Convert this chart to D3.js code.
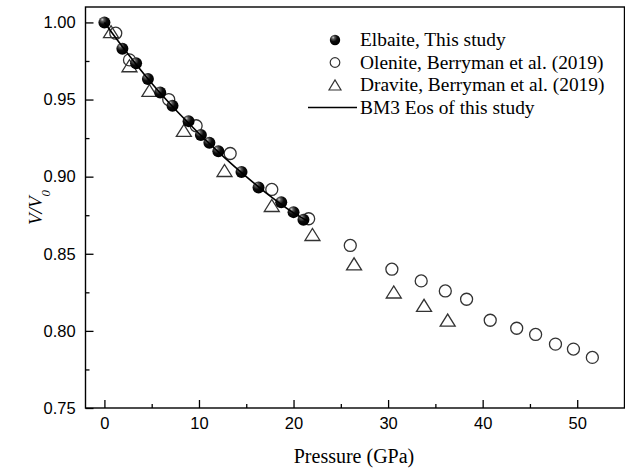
<!DOCTYPE html>
<html>
<head>
<meta charset="utf-8">
<script src="https://cdn.jsdelivr.net/npm/d3@7"></script>
<style>
  body { margin: 0; background: #fff; }
  svg { display: block; }
</style>
</head>
<body>
<div id="chart-container"></div>
<script>
// Elbaite, this study
const elbP = [0, 1.9, 3.35, 4.6, 5.9, 7.2, 8.9, 10.2, 11.1, 12.05, 14.5, 16.3, 18.7, 20.0, 21.05];
const elbV = [1.000, 0.983, 0.9735, 0.9633, 0.9546, 0.946, 0.936, 0.927, 0.922, 0.9164, 0.903, 0.893, 0.8834, 0.877, 0.872];

// Olenite, Berryman et al. (2019)
const olnP = [1.2, 2.65, 6.8, 9.7, 13.3, 17.7, 21.6, 26.0, 30.4, 33.5, 36.05, 38.3, 40.8, 43.6, 45.6, 47.7, 49.6, 51.6];
const olnV = [0.993, 0.9757, 0.950, 0.933, 0.915, 0.8917, 0.8727, 0.8554, 0.840, 0.8324, 0.8259, 0.8205, 0.8069, 0.8017, 0.7977, 0.7914, 0.7882, 0.7828];

// Dravite, Berryman et al. (2019)
const drvP = [0.7, 2.65, 4.76, 8.4, 12.7, 17.7, 22.0, 26.4, 30.6, 33.8, 36.3];
const drvV = [0.994, 0.9719, 0.9559, 0.930, 0.904, 0.8813, 0.8625, 0.8435, 0.8252, 0.8166, 0.807];

// BM3 EoS curve
const eosP = [0, 2.5, 5, 7.5, 10, 12.5, 15, 17.5, 20, 21.5];
const eosV = [1.000, 0.9795, 0.9605, 0.9435, 0.928, 0.9135, 0.900, 0.8875, 0.8765, 0.8712];

const xTicks = [0, 10, 20, 30, 40, 50];
const yTicks = [0.75, 0.80, 0.85, 0.90, 0.95, 1.00];

const legendLabels = ["Elbaite, This study", "Olenite, Berryman et al. (2019)", "Dravite, Berryman et al. (2019)", "BM3 Eos of this study"];

const W = 625, H = 471;
const margin = { top: 7, right: 0.5, bottom: 63, left: 85.5 };
const width = W - margin.left - margin.right;
const height = H - margin.top - margin.bottom;

const svgRoot = d3.select("#chart-container")
  .append("svg")
    .attr("width", W)
    .attr("height", H);

// sphere look for the filled markers
const defs = svgRoot.append("defs");
const grad = defs.append("radialGradient")
  .attr("id", "ball")
  .attr("cx", "38%").attr("cy", "32%").attr("r", "65%")
  .attr("fx", "32%").attr("fy", "26%");
grad.append("stop").attr("offset", "0%").attr("stop-color", "#d0d0d0");
grad.append("stop").attr("offset", "22%").attr("stop-color", "#5a5a5a");
grad.append("stop").attr("offset", "55%").attr("stop-color", "#0c0c0c");
grad.append("stop").attr("offset", "100%").attr("stop-color", "#000");

const svg = svgRoot.append("g")
  .attr("transform", `translate(${margin.left},${margin.top})`);

const x = d3.scaleLinear().domain([-2, 55]).range([0, width]);
const y = d3.scaleLinear().domain([0.75, 1.01]).range([height, 0]);

const tickFont = "'Liberation Sans', Arial, sans-serif";
const serifFont = "'Liberation Serif', 'Times New Roman', serif";

// minor ticks
svg.append("g")
  .attr("transform", `translate(0,${height})`)
  .call(d3.axisBottom(x).tickValues([5, 15, 25, 35, 45]).tickSize(-4).tickFormat(""))
  .call(g => g.select(".domain").remove())
  .selectAll("line").attr("stroke", "#000").attr("stroke-width", 1.3);

svg.append("g")
  .call(d3.axisLeft(y).tickValues([0.775, 0.825, 0.875, 0.925, 0.975]).tickSize(-4).tickFormat(""))
  .call(g => g.select(".domain").remove())
  .selectAll("line").attr("stroke", "#000").attr("stroke-width", 1.3);

// major ticks + labels
const xAxis = svg.append("g")
  .attr("transform", `translate(0,${height})`)
  .call(d3.axisBottom(x).tickValues(xTicks).tickSize(-8).tickPadding(9.5).tickFormat(d3.format("d")));
xAxis.select(".domain").remove();
xAxis.selectAll("line").attr("stroke", "#000").attr("stroke-width", 1.3);
xAxis.selectAll("text")
  .style("font-family", tickFont)
  .style("font-size", "16.5px")
  .attr("fill", "#000");

const yAxis = svg.append("g")
  .call(d3.axisLeft(y).tickValues(yTicks).tickSize(-8).tickPadding(9.8).tickFormat(d3.format(".2f")));
yAxis.select(".domain").remove();
yAxis.selectAll("line").attr("stroke", "#000").attr("stroke-width", 1.3);
yAxis.selectAll("text")
  .style("font-family", tickFont)
  .style("font-size", "16.5px")
  .attr("fill", "#000");

// frame
svg.append("rect")
  .attr("x", 0).attr("y", 0)
  .attr("width", width).attr("height", height)
  .attr("fill", "none")
  .attr("stroke", "#000")
  .attr("stroke-width", 1.4);

// triangle shape from centre, half width and height
function tri(cx, cy, hw, h) {
  return `M${cx - hw},${cy + h / 2}L${cx + hw},${cy + h / 2}L${cx},${cy - h / 2}Z`;
}

const drv = drvP.map((p, i) => ({ p: p, v: drvV[i] }));
const oln = olnP.map((p, i) => ({ p: p, v: olnV[i] }));
const elb = elbP.map((p, i) => ({ p: p, v: elbV[i] }));
const eos = eosP.map((p, i) => ({ p: p, v: eosV[i] }));

svg.selectAll(".drv")
  .data(drv)
  .join("path")
  .attr("class", "drv")
  .attr("d", d => tri(x(d.p), y(d.v), 7.5, 12))
  .attr("fill", "none")
  .attr("stroke", "#333")
  .attr("stroke-width", 1.3);

svg.selectAll(".oln")
  .data(oln)
  .join("circle")
  .attr("class", "oln")
  .attr("cx", d => x(d.p))
  .attr("cy", d => y(d.v))
  .attr("r", 6)
  .attr("fill", "none")
  .attr("stroke", "#333")
  .attr("stroke-width", 1.3);

svg.selectAll(".elb")
  .data(elb)
  .join("circle")
  .attr("class", "elb")
  .attr("cx", d => x(d.p))
  .attr("cy", d => y(d.v))
  .attr("r", 6)
  .attr("fill", "url(#ball)");

const line = d3.line()
  .curve(d3.curveMonotoneX)
  .x(d => x(d.p))
  .y(d => y(d.v));

svg.append("path")
  .datum(eos)
  .attr("fill", "none")
  .attr("stroke", "#000")
  .attr("stroke-width", 1.6)
  .attr("d", line);

// legend (page coordinates)
const lg = svgRoot.append("g");
const lx = 335, textX = 360;
const rows = [40, 62.5, 85, 107.5];

lg.append("circle").attr("cx", lx).attr("cy", rows[0]).attr("r", 5.2).attr("fill", "url(#ball)");
lg.append("circle").attr("cx", lx).attr("cy", rows[1]).attr("r", 4.8)
  .attr("fill", "none").attr("stroke", "#333").attr("stroke-width", 1.2);
lg.append("path").attr("d", tri(lx, rows[2], 6, 10))
  .attr("fill", "none").attr("stroke", "#333").attr("stroke-width", 1.2);
lg.append("line").attr("x1", 308).attr("x2", 357).attr("y1", rows[3]).attr("y2", rows[3])
  .attr("stroke", "#000").attr("stroke-width", 1.6);

lg.selectAll(".lt")
  .data(legendLabels)
  .join("text")
  .attr("class", "lt")
  .attr("x", textX)
  .attr("y", (d, i) => rows[i])
  .attr("dy", "0.33em")
  .style("font-family", serifFont)
  .style("font-size", "19.4px")
  .attr("fill", "#000")
  .text(d => d);

// axis titles
svgRoot.append("text")
  .attr("x", 354)
  .attr("y", 463)
  .attr("text-anchor", "middle")
  .style("font-family", serifFont)
  .style("font-size", "20px")
  .text("Pressure (GPa)");

const yt = svgRoot.append("text")
  .attr("transform", `translate(42,${margin.top + height / 2}) rotate(-90)`)
  .attr("text-anchor", "middle")
  .style("font-family", serifFont)
  .style("font-size", "19px")
  .style("font-style", "italic");
yt.append("tspan").text("V/V");
yt.append("tspan").attr("baseline-shift", "sub").style("font-size", "13px").text("0");
</script>
</body>
</html>
